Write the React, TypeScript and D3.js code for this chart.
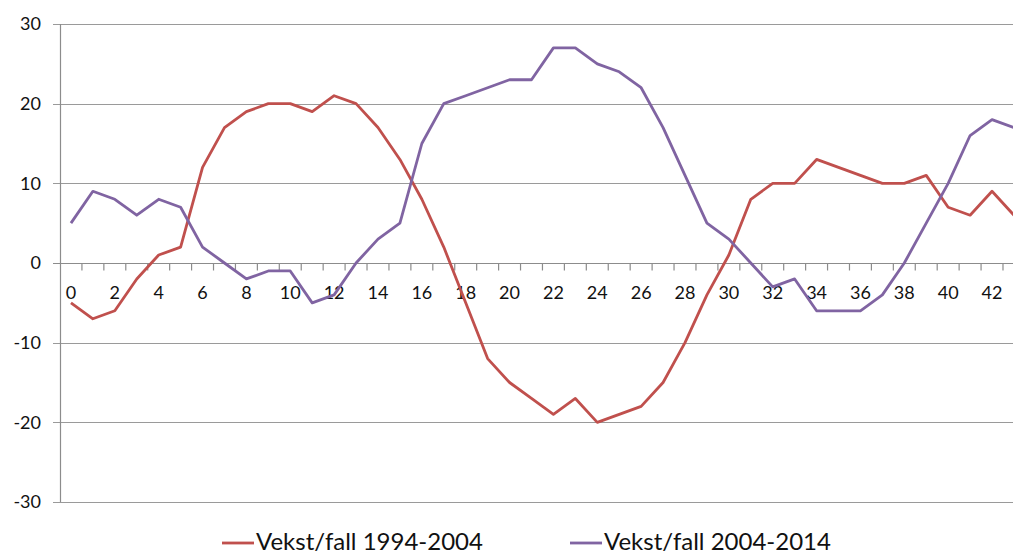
import React, { useEffect, useRef } from 'react';
import * as d3 from 'd3';

const periods: number[] = d3.range(0, 44);

const series1994: number[] = [
  -5, -7, -6, -2, 1, 2, 12, 17, 19, 20, 20, 19, 21, 20, 17, 13, 8, 2, -5, -12, -15,
  -17, -19, -17, -20, -19, -18, -15, -10, -4, 1, 8, 10, 10, 13, 12, 11, 10, 10, 11,
  7, 6, 9, 6,
];

const series2004: number[] = [
  5, 9, 8, 6, 8, 7, 2, 0, -2, -1, -1, -5, -4, 0, 3, 5, 15, 20, 21, 22, 23, 23, 27,
  27, 25, 24, 22, 17, 11, 5, 3, 0, -3, -2, -6, -6, -6, -4, 0, 5, 10, 16, 18, 17,
];

const yTicks: number[] = [-30, -20, -10, 0, 10, 20, 30];
const xLabels: number[] = periods.filter((d) => d % 2 === 0);

const seriesNames = ['Vekst/fall 1994-2004', 'Vekst/fall 2004-2014'];
const colors = ['#C0504D', '#8064A2'];

const W = 1013;
const H = 556;
const FONT = 'Lato, "Open Sans", sans-serif';

const App = () => {
  const ref = useRef<SVGSVGElement>(null);

  useEffect(() => {
    const svg = d3.select(ref.current);
    svg.selectAll('*').remove();

    const margin = { top: 24, left: 60, bottom: 54 };
    const step = 21.93;

    // category axis, points sit between the tick marks
    const x = d3.scaleBand<number>()
      .domain(periods)
      .range([margin.left, margin.left + step * periods.length])
      .padding(0);
    const cx = (i: number) => (x(i) as number) + x.bandwidth() / 2;

    const y = d3.scaleLinear()
      .domain([-30, 30])
      .range([H - margin.bottom, margin.top]);

    // horizontal gridlines
    svg.append('g')
      .selectAll('line')
      .data(yTicks)
      .join('line')
      .attr('x1', margin.left - 7)
      .attr('x2', W)
      .attr('y1', (d) => Math.round(y(d)) + 0.5)
      .attr('y2', (d) => Math.round(y(d)) + 0.5)
      .attr('stroke', (d) => (d === 0 ? '#8c8c8c' : '#9a9a9a'))
      .attr('stroke-width', 1.2);

    // y labels
    svg.append('g')
      .selectAll('text')
      .data(yTicks)
      .join('text')
      .attr('x', 41)
      .attr('y', (d) => y(d))
      .attr('dy', '0.35em')
      .attr('text-anchor', 'end')
      .attr('font-family', FONT)
      .attr('font-size', 18)
      .attr('fill', '#111')
      .text((d) => d);

    // y axis line
    svg.append('line')
      .attr('x1', margin.left + 0.5)
      .attr('x2', margin.left + 0.5)
      .attr('y1', y(30))
      .attr('y2', y(-30))
      .attr('stroke', '#8c8c8c')
      .attr('stroke-width', 1.2);

    // x axis ticks at y = 0
    const y0 = Math.round(y(0)) + 0.5;
    svg.append('g')
      .selectAll('line')
      .data(periods.slice(1))
      .join('line')
      .attr('x1', (d) => x(d) as number)
      .attr('x2', (d) => x(d) as number)
      .attr('y1', y0)
      .attr('y2', y0 + 7)
      .attr('stroke', '#8c8c8c')
      .attr('stroke-width', 1.2);

    svg.append('g')
      .selectAll('text')
      .data(xLabels)
      .join('text')
      .attr('x', (d) => cx(d))
      .attr('y', y0 + 35)
      .attr('text-anchor', 'middle')
      .attr('font-family', FONT)
      .attr('font-size', 18)
      .attr('fill', '#111')
      .text((d) => d);

    // lines
    const line = d3.line<number>()
      .x((d, i) => cx(i))
      .y((d) => y(d));

    [series1994, series2004].forEach((s, k) => {
      svg.append('path')
        .datum(s)
        .attr('d', line)
        .attr('fill', 'none')
        .attr('stroke', colors[k])
        .attr('stroke-width', 2.8)
        .attr('stroke-linejoin', 'round');
    });

    // legend
    const legendX = [222, 570];
    const legendY = 543;
    const lg = svg.append('g')
      .selectAll('g')
      .data(seriesNames)
      .join('g')
      .attr('transform', (d, i) => `translate(${legendX[i]}, ${legendY})`);
    lg.append('line')
      .attr('x1', 0)
      .attr('x2', 32)
      .attr('y1', 0)
      .attr('y2', 0)
      .attr('stroke', (d, i) => colors[i])
      .attr('stroke-width', 2.8);
    lg.append('text')
      .attr('x', 34)
      .attr('y', 7)
      .attr('font-family', FONT)
      .attr('font-size', 24)
      .attr('fill', '#111')
      .text((d) => d);
  }, []);

  return (
    <svg
      ref={ref}
      width={W}
      height={H}
      style={{ position: 'absolute', left: 0, top: 0, background: '#fff' }}
    />
  );
};

export default App;
